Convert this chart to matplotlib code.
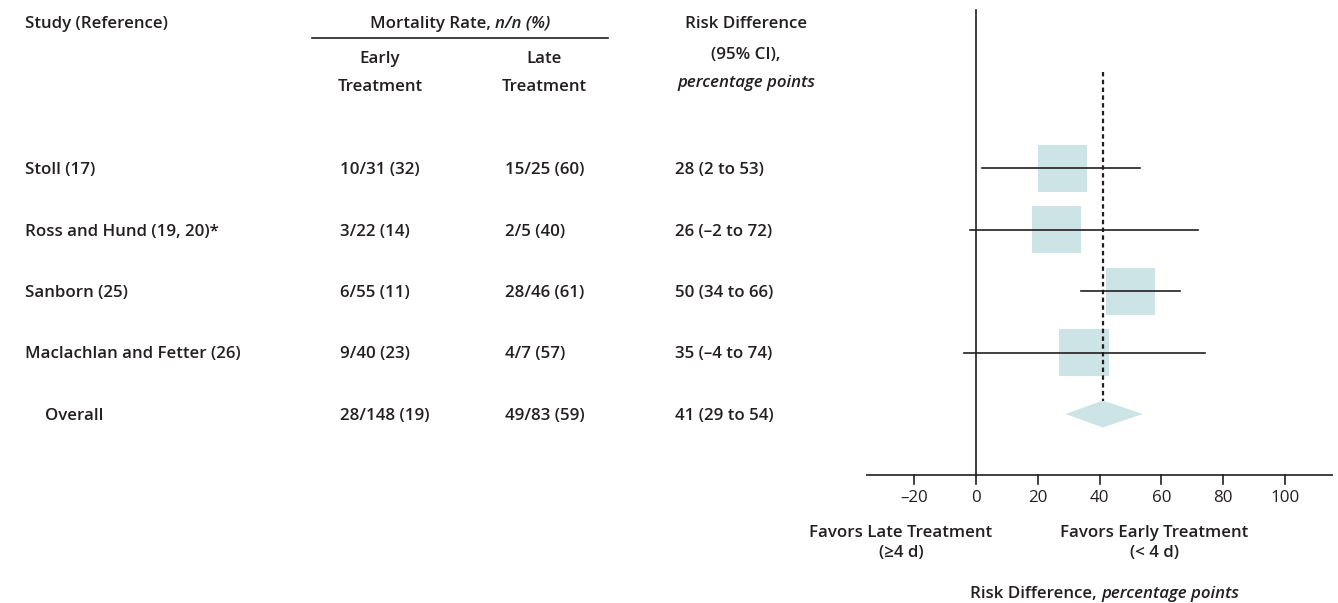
import numpy as np
import matplotlib
matplotlib.use("Agg")
import matplotlib.pyplot as plt

studies = ["Stoll (17)", "Ross and Hund (19, 20)*", "Sanborn (25)",
           "Maclachlan and Fetter (26)", "Overall"]
early_txt = ["10/31 (32)", "3/22 (14)", "6/55 (11)", "9/40 (23)", "28/148 (19)"]
late_txt = ["15/25 (60)", "2/5 (40)", "28/46 (61)", "4/7 (57)", "49/83 (59)"]
rd = [28, 26, 50, 35, 41]
lo = [2, -2, 34, -4, 29]
hi = [53, 72, 66, 74, 54]
xticks = [-20, 0, 20, 40, 60, 80, 100]

W, H = 1338, 603
plt.rcParams['font.family'] = ['Open Sans', 'DejaVu Sans']
TXT = "#231f20"
FILL = "#cde4e6"
FS = 12.2

fig = plt.figure(figsize=(W / 100, H / 100), dpi=100)
renderer = fig.canvas.get_renderer()

def ft(x, y, s, **kw):
    kw.setdefault("fontsize", FS)
    kw.setdefault("color", TXT)
    kw.setdefault("fontweight", "semibold")
    return fig.text(x / W, 1 - (y + 2) / H, s, va="center", **kw)

def mixed(xc, y, parts):
    # parts: list of (text, style); centred on xc as one line
    arts = [ft(0, y, s, style=st) for s, st in parts]
    widths = [a.get_window_extent(renderer).width for a in arts]
    x = xc - sum(widths) / 2
    for a, w in zip(arts, widths):
        a.set_x(x / W)
        x += w

# header
ft(25, 22, "Study (Reference)")
mixed(460, 22, [("Mortality Rate, ", "normal"), ("n/n (%)", "italic")])
ft(380, 57, "Early", ha="center")
ft(380, 85, "Treatment", ha="center")
ft(544, 57, "Late", ha="center")
ft(544, 85, "Treatment", ha="center")
ft(746, 22, "Risk Difference", ha="center")
ft(746, 53, "(95% CI),", ha="center")
ft(746, 81, "percentage points", ha="center", style="italic")
fig.add_artist(plt.Line2D([312 / W, 608 / W], [1 - 38 / H, 1 - 38 / H],
                          color=TXT, lw=1.2))

row_y = [168 + 61.5 * i for i in range(len(studies))]
for i, s in enumerate(studies):
    y = row_y[i]
    ft(45 if s == "Overall" else 25, y, s)
    ft(340, y, early_txt[i])
    ft(505, y, late_txt[i])
    ft(675, y, f"{rd[i]} ({lo[i]} to {hi[i]})".replace("-", "\u2013"))

# forest plot axes
x0_px, scale = 976, 3.09
left_px, right_px = 866, 1333
ax = fig.add_axes([left_px / W, 0, (right_px - left_px) / W, 1])
ax.set_xlim((left_px - x0_px) / scale, (right_px - x0_px) / scale)
ax.set_ylim(H, 0)
ax.axis("off")

axis_y = 475
ax.plot(ax.get_xlim(), [axis_y, axis_y], color=TXT, lw=1.2)
ax.plot([0, 0], [10, axis_y], color=TXT, lw=1.2)
for t in xticks:
    ax.plot([t, t], [axis_y, axis_y + 9], color=TXT, lw=1.2)
    ax.text(t, 498, f"{t}".replace("-", "\u2013"), ha="center", va="center",
            fontsize=FS, color=TXT)

bw, bh = 16, 47
for i in range(4):
    y = row_y[i]
    ax.add_patch(plt.Rectangle((rd[i] - bw / 2, y - bh / 2), bw, bh,
                               facecolor=FILL, edgecolor="none", zorder=1))
    ax.plot([lo[i], hi[i]], [y, y], color=TXT, lw=1.2, zorder=2)

yo = row_y[4]
ax.fill([lo[4], rd[4], hi[4], rd[4]], [yo, yo - 13.5, yo, yo + 13.5],
        color=FILL, lw=0, zorder=1)
ax.plot([rd[4], rd[4]], [72, yo - 13.5], color=TXT, lw=1.6,
        linestyle=(0, (2, 1.5)), zorder=3)

ft(901, 531, "Favors Late Treatment", ha="center")
ft(901, 551, "(\u22654 d)", ha="center")
ft(1154, 531, "Favors Early Treatment", ha="center")
ft(1154, 551, "(< 4 d)", ha="center")
mixed(1105, 592, [("Risk Difference, ", "normal"),
                  ("percentage points", "italic")])

fig.savefig("out.png", dpi=100)
